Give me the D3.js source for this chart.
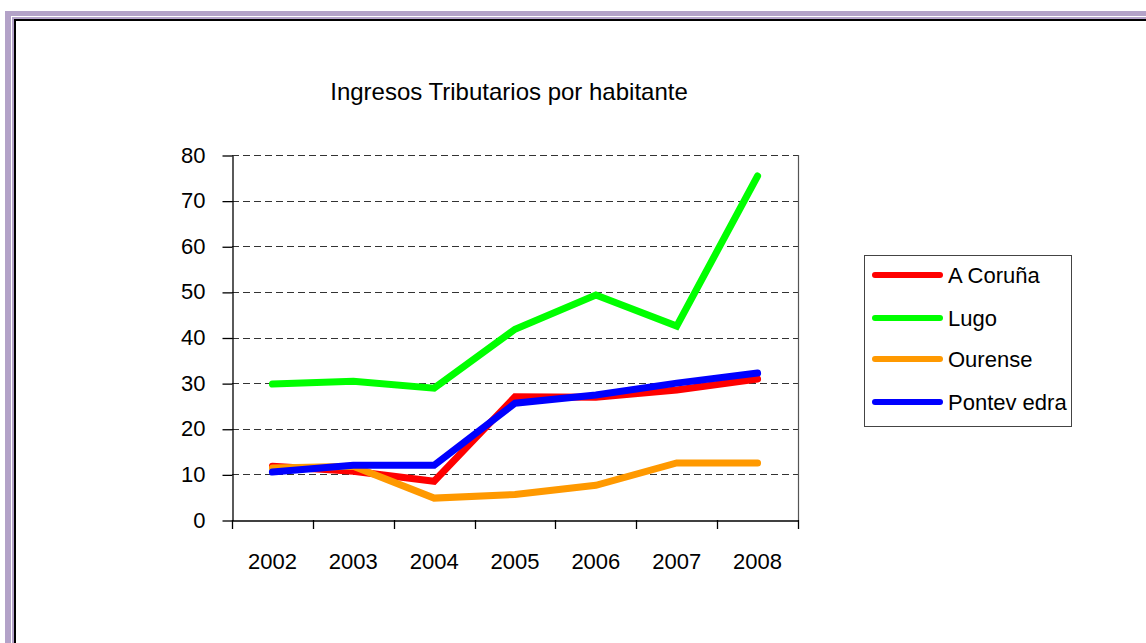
<!DOCTYPE html>
<html>
<head>
<meta charset="utf-8">
<script src="https://cdn.jsdelivr.net/npm/d3@7"></script>
<style>
  html, body { margin: 0; padding: 0; background: #fff; }
  svg { display: block; }
  text { font-family: "Liberation Sans", Arial, sans-serif; fill: #000; }
</style>
</head>
<body>
<svg id="chart" width="1146" height="643"></svg>
<script>
const title = "Ingresos Tributarios por habitante";
const years = ["2002", "2003", "2004", "2005", "2006", "2007", "2008"];
const yTicks = [0, 10, 20, 30, 40, 50, 60, 70, 80];
const seriesNames = ["A Coruña", "Lugo", "Ourense", "Pontev edra"];
const seriesColors = ["#ff0000", "#00ff00", "#ff9900", "#0000ff"];
const coruna     = [11.8, 10.7, 8.5, 27.0, 26.9, 28.5, 30.9];
const lugo       = [29.8, 30.4, 28.9, 41.8, 49.3, 42.5, 75.4];
const ourense    = [11.4, 11.8, 4.8, 5.6, 7.6, 12.5, 12.5];
const pontevedra = [10.5, 12.0, 12.0, 25.6, 27.4, 30.0, 32.2];
const seriesValues = [coruna, lugo, ourense, pontevedra];

const svg = d3.select("#chart");

// Frame (purple double border + black inner line)
const purple = "#b3a2c8";
const fr = svg.append("g");
fr.append("rect").attr("x", 5).attr("y", 11).attr("width", 1200).attr("height", 5).attr("fill", purple);
fr.append("rect").attr("x", 5).attr("y", 11).attr("width", 6).attr("height", 700).attr("fill", purple);
fr.append("rect").attr("x", 12).attr("y", 17).attr("width", 1200).attr("height", 2).attr("fill", purple);
fr.append("rect").attr("x", 12).attr("y", 17).attr("width", 2).attr("height", 700).attr("fill", purple);
fr.append("rect").attr("x", 14).attr("y", 19).attr("width", 1200).attr("height", 2).attr("fill", "#000");
fr.append("rect").attr("x", 14).attr("y", 19).attr("width", 2).attr("height", 700).attr("fill", "#000");

const pLeft = 232, pRight = 798, pTop = 155, pBottom = 520;

const x = d3.scaleBand().domain(years).range([pLeft, pRight]);
const y = d3.scaleLinear().domain([0, 80]).range([pBottom, pTop]);

// Title
svg.append("text")
  .attr("x", 509).attr("y", 100)
  .attr("text-anchor", "middle")
  .style("font-size", "24px")
  .text(title);

// Gridlines
svg.append("g").selectAll("line")
  .data(yTicks.filter(d => d > 0))
  .join("line")
  .attr("x1", pLeft).attr("x2", pRight)
  .attr("y1", d => Math.round(y(d)) + 0.5).attr("y2", d => Math.round(y(d)) + 0.5)
  .attr("stroke", "#333")
  .attr("stroke-width", 1)
  .attr("stroke-dasharray", "7,4");

// Right plot border
svg.append("line")
  .attr("x1", pRight + 0.5).attr("x2", pRight + 0.5)
  .attr("y1", pTop).attr("y2", pBottom)
  .attr("stroke", "#555").attr("stroke-width", 1.2);

// Y axis
const yAxis = d3.axisLeft(y).tickValues(yTicks).tickSize(10).tickPadding(17).tickSizeOuter(0);
const gy = svg.append("g").attr("transform", `translate(${pLeft + 0.5},0.5)`).call(yAxis);
gy.selectAll("path, line").attr("stroke", "#000").attr("stroke-width", 1.3);
gy.selectAll("text").style("font-size", "22px").style("font-family", '"Liberation Sans", Arial, sans-serif').attr("dy", "0.3em");

// X axis (labels at centers, ticks at category boundaries)
const xAxis = d3.axisBottom(x).tickSize(0).tickPadding(33).tickSizeOuter(0);
const gx = svg.append("g").attr("transform", `translate(0,${pBottom + 0.5})`).call(xAxis);
gx.select("path").attr("stroke", "#000").attr("stroke-width", 1.3);
gx.selectAll("text").style("font-size", "22px").style("font-family", '"Liberation Sans", Arial, sans-serif');
const bounds = years.map(d => x(d)).concat([x.range()[1]]);
svg.append("g").selectAll("line")
  .data(bounds)
  .join("line")
  .attr("x1", d => Math.round(d) + 0.5).attr("x2", d => Math.round(d) + 0.5)
  .attr("y1", pBottom).attr("y2", pBottom + 9)
  .attr("stroke", "#000").attr("stroke-width", 1.3);

// Lines
const line = d3.line()
  .x((d, i) => x(years[i]) + x.bandwidth() / 2)
  .y(d => y(d));
svg.append("g").selectAll("path")
  .data(seriesValues)
  .join("path")
  .attr("d", d => line(d))
  .attr("fill", "none")
  .attr("stroke", (d, i) => seriesColors[i])
  .attr("stroke-width", 7)
  .attr("stroke-linecap", "round")
  .attr("stroke-linejoin", "miter");

// Legend
const lg = svg.append("g");
lg.append("rect")
  .attr("x", 864.5).attr("y", 255.5).attr("width", 207).attr("height", 171)
  .attr("fill", "#fff").attr("stroke", "#444").attr("stroke-width", 1);
const legendY = [275, 318, 359, 402];
const items = lg.selectAll("g.item").data(seriesNames).join("g").attr("class", "item")
  .attr("transform", (d, i) => `translate(0,${legendY[i]})`);
items.append("line")
  .attr("x1", 875).attr("x2", 940).attr("y1", 0).attr("y2", 0)
  .attr("stroke", (d, i) => seriesColors[i])
  .attr("stroke-width", 6).attr("stroke-linecap", "round");
items.append("text")
  .attr("x", 948).attr("y", 8)
  .style("font-size", "22px")
  .text(d => d);
</script>
</body>
</html>
